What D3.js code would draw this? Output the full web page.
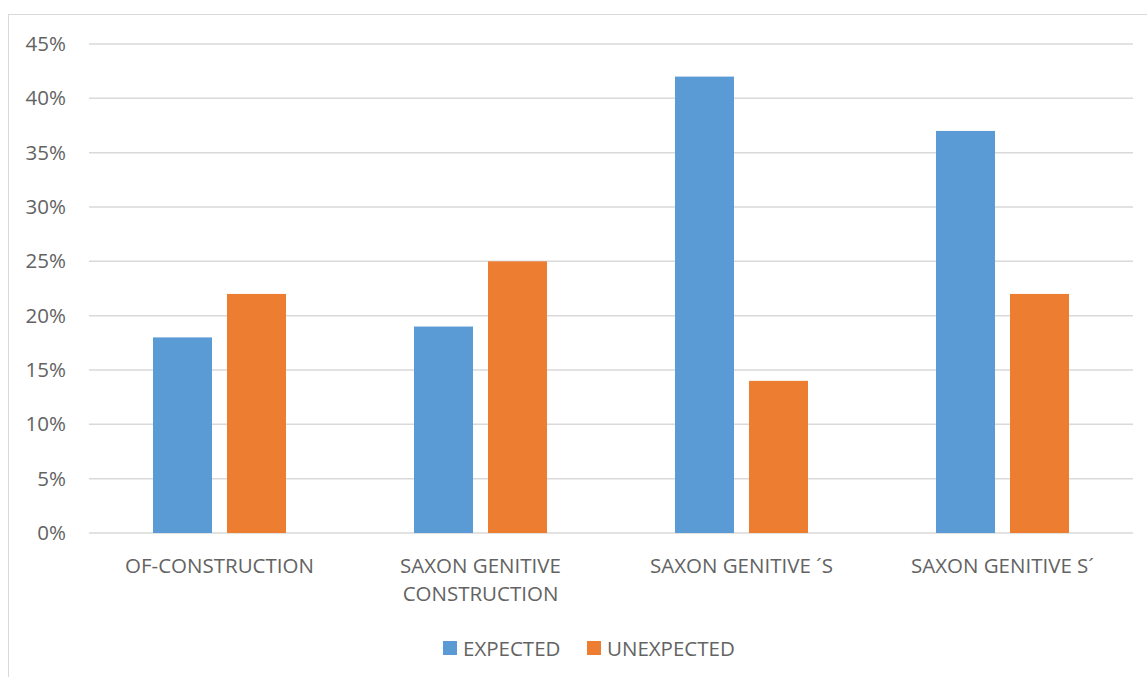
<!DOCTYPE html>
<html>
<head>
<meta charset="utf-8">
<script src="https://cdn.jsdelivr.net/npm/d3@7"></script>
<style>
  html, body { margin: 0; padding: 0; background: #fff; }
  svg { display: block; }
</style>
</head>
<body>
<svg id="chart" width="1147" height="677"></svg>
<script>
// Share of expected vs. unexpected readings per genitive construction
const categories = ["OF-CONSTRUCTION", "SAXON GENITIVE CONSTRUCTION", "SAXON GENITIVE \u00B4S", "SAXON GENITIVE S\u00B4"];
const categoryLines = [["OF-CONSTRUCTION"], ["SAXON GENITIVE", "CONSTRUCTION"], ["SAXON GENITIVE \u00B4S"], ["SAXON GENITIVE S\u00B4"]];
const seriesNames = ["EXPECTED", "UNEXPECTED"];
const expected = [18, 19, 42, 37];
const unexpected = [22, 25, 14, 22];
const yTicks = [0, 5, 10, 15, 20, 25, 30, 35, 40, 45];
const colors = ["#5B9BD5", "#ED7D31"];

const svg = d3.select("#chart");
const font = "'Open Sans', 'Noto Sans', sans-serif";
const textColor = "#636363";
const fontSize = 20.5;

// outer chart frame
svg.append("rect")
  .attr("x", 8.5).attr("y", 14.5)
  .attr("width", 1160).attr("height", 700)
  .attr("fill", "none").attr("stroke", "#d9d9d9").attr("stroke-width", 1);

const plot = { left: 89, right: 1133, top: 44, bottom: 533 };

const x = d3.scaleBand().domain(categories).range([plot.left, plot.right]).paddingInner(0).paddingOuter(0);
const x1 = d3.scaleBand().domain(seriesNames).range([0, x.bandwidth()]).paddingInner(0.2027).paddingOuter(0.865);
const y = d3.scaleLinear().domain([0, 45]).range([plot.bottom, plot.top]);

// gridlines
svg.append("g").selectAll("line").data(yTicks).join("line")
  .attr("x1", plot.left).attr("x2", plot.right)
  .attr("y1", d => y(d)).attr("y2", d => y(d))
  .attr("stroke", "#d9d9d9").attr("stroke-width", 1.5);

// y axis labels
const yAxis = d3.axisLeft(y).tickValues(yTicks).tickFormat(d => d + "%").tickSize(0).tickPadding(0);
const yg = svg.append("g").attr("transform", `translate(66,0)`).call(yAxis);
yg.select(".domain").remove();
yg.selectAll("text").attr("font-family", font).attr("font-size", fontSize).attr("fill", textColor);

// bars
const rows = categories.map((c, i) => ({ cat: c, vals: [expected[i], unexpected[i]] }));
const groups = svg.append("g").selectAll("g").data(rows).join("g")
  .attr("transform", d => `translate(${x(d.cat)},0)`);
groups.selectAll("rect").data(d => d.vals.map((v, j) => ({ v, s: seriesNames[j], j }))).join("rect")
  .attr("x", d => x1(d.s))
  .attr("width", x1.bandwidth())
  .attr("y", d => y(d.v))
  .attr("height", d => y(0) - y(d.v))
  .attr("fill", d => colors[d.j]);

// category labels
const labels = svg.append("g").selectAll("text").data(categories).join("text")
  .attr("x", d => x(d) + x.bandwidth() / 2)
  .attr("y", 573)
  .attr("text-anchor", "middle")
  .attr("font-family", font).attr("font-size", fontSize).attr("fill", textColor);
labels.each(function(d, i) {
  d3.select(this).selectAll("tspan").data(categoryLines[i]).join("tspan")
    .attr("x", x(d) + x.bandwidth() / 2)
    .attr("dy", (t, k) => k === 0 ? 0 : 28)
    .text(t => t);
});

// legend
const legendItems = [{ name: seriesNames[0], x: 443 }, { name: seriesNames[1], x: 587 }];
const lg = svg.append("g").selectAll("g").data(legendItems).join("g")
  .attr("transform", d => `translate(${d.x},641)`);
lg.append("rect").attr("width", 14).attr("height", 14).attr("fill", (d, i) => colors[i]);
lg.append("text").attr("x", 20).attr("y", 14.5)
  .attr("font-family", font).attr("font-size", fontSize).attr("fill", textColor)
  .text(d => d.name);
</script>
</body>
</html>
